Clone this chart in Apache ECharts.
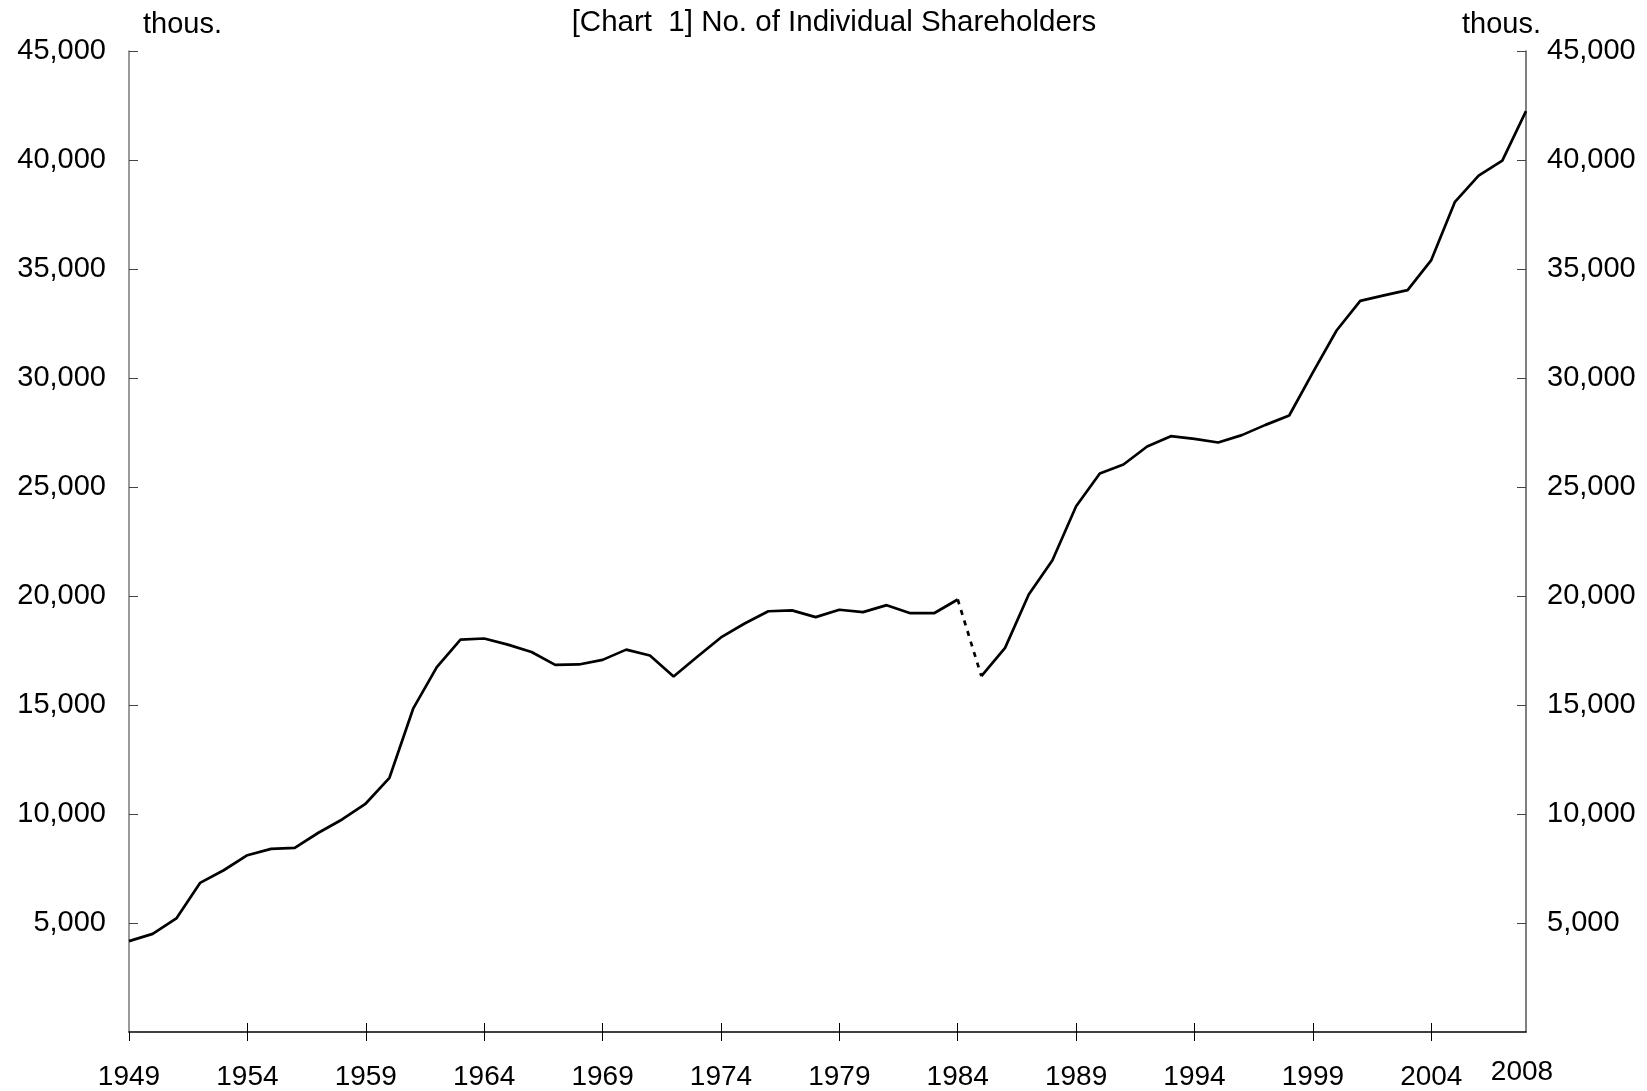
<!DOCTYPE html>
<html>
<head>
<meta charset="utf-8">
<script src="https://cdn.jsdelivr.net/npm/echarts@6/dist/echarts.min.js"></script>
<style>
  html, body { margin: 0; padding: 0; background: #fff; }
  #chart { width: 1647px; height: 1091px; }
</style>
</head>
<body>
<div id="chart"></div>
<script>
// ---- data ----
const years = [];
for (let y = 1949; y <= 2008; y++) years.push(String(y));

const shareholders = [
  4170, 4500, 5210, 6840, 7420, 8110, 8400, 8450, 9140, 9750,
  10480, 11660, 14830, 16740, 18000, 18050, 17770, 17430, 16840, 16860,
  17070, 17540, 17270, 16310, 17210, 18100, 18740, 19300, 19340, 19030,
  19370, 19260, 19580, 19210, 19210, 19840, 16320, 17620, 20070, 21640,
  24120, 25620, 26030, 26860, 27330, 27210, 27040, 27380, 27850, 28280,
  30260, 32180, 33540, 33790, 34030, 35410, 38080, 39280, 39970, 42240
];

const breakYear = '1984';           // dashed link from 1984 to 1985
const yTicks = [0, 5000, 10000, 15000, 20000, 25000, 30000, 35000, 40000, 45000];
const titleText = '[Chart  1] No. of Individual Shareholders';
const unitText = 'thous.';

// ---- build series ----
const bi = years.indexOf(breakYear);
const before = shareholders.map((v, i) => (i <= bi ? v : null));
const link = shareholders.map((v, i) => (i === bi || i === bi + 1 ? v : null));
const after = shareholders.map((v, i) => (i >= bi + 1 ? v : null));

const FONT = "'Liberation Sans', Arial, sans-serif";
const fmt = v => (v === 0 ? '' : v.toLocaleString('en-US'));

const chart = echarts.init(document.getElementById('chart'), null, { renderer: 'canvas' });

const lineSeries = (data, dashed) => ({
  type: 'line',
  data: data,
  xAxisIndex: 0,
  yAxisIndex: 0,
  symbol: 'none',
  connectNulls: false,
  silent: true,
  lineStyle: { color: '#000', width: 2.7, type: dashed ? [5, 6] : 'solid' },
  animation: false
});

chart.setOption({
  animation: false,
  backgroundColor: '#fff',
  grid: { left: 129, right: 121, top: 51, bottom: 58.5, containLabel: false },
  graphic: [
    { type: 'text', x: 834, y: 23,
      style: { text: titleText, font: '29.5px ' + FONT, fill: '#000', textAlign: 'center', textVerticalAlign: 'middle' } },
    { type: 'text', x: 143, y: 25,
      style: { text: unitText, font: '29px ' + FONT, fill: '#000', textAlign: 'left', textVerticalAlign: 'middle' } },
    { type: 'text', x: 1541, y: 25,
      style: { text: unitText, font: '29px ' + FONT, fill: '#000', textAlign: 'right', textVerticalAlign: 'middle' } }
  ],
  xAxis: [
    {
      type: 'category',
      data: years,
      boundaryGap: false,
      position: 'bottom',
      axisLine: { show: true, lineStyle: { color: '#000', width: 1.5 } },
      axisTick: {
        show: true, inside: false, length: 9,
        interval: (i) => i % 5 === 0,
        lineStyle: { color: '#000', width: 1 }
      },
      axisLabel: {
        show: true,
        interval: (i) => i % 5 === 0 || i === years.length - 1,
        margin: 26,
        formatter: (v) => (v === years[years.length - 1] ? '{e|' + v + '}' : '{n|' + v + '}'),
        rich: {
          n: { fontSize: 28, fontFamily: FONT, color: '#000', padding: [5, 0, 0, 0] },
          e: { fontSize: 28, fontFamily: FONT, color: '#000', padding: [0, 8, 0, 0] }
        }
      },
      splitLine: { show: false }
    },
    {
      type: 'category',
      data: years,
      boundaryGap: false,
      position: 'bottom',
      axisLine: { show: false },
      axisTick: {
        show: true, inside: true, length: 9,
        interval: (i) => i % 5 === 0 && i !== 0,
        lineStyle: { color: '#000', width: 1 }
      },
      axisLabel: { show: false },
      splitLine: { show: false }
    }
  ],
  yAxis: [
    {
      type: 'value',
      position: 'left',
      min: yTicks[0], max: yTicks[yTicks.length - 1], interval: 5000,
      axisLine: { show: true, lineStyle: { color: '#777', width: 1.5 } },
      axisTick: { show: true, inside: true, length: 9, lineStyle: { color: '#444', width: 1 } },
      axisLabel: { show: true, margin: 23, fontSize: 29, fontFamily: FONT, color: '#000', formatter: fmt },
      splitLine: { show: false }
    },
    {
      type: 'value',
      position: 'right',
      min: yTicks[0], max: yTicks[yTicks.length - 1], interval: 5000,
      axisLine: { show: true, lineStyle: { color: '#555', width: 1.5 } },
      axisTick: { show: true, inside: true, length: 9, lineStyle: { color: '#444', width: 1 } },
      axisLabel: { show: true, margin: 21, fontSize: 29, fontFamily: FONT, color: '#000', formatter: fmt },
      splitLine: { show: false }
    }
  ],
  series: [
    lineSeries(before, false),
    lineSeries(link, true),
    lineSeries(after, false)
  ]
});
</script>
</body>
</html>
